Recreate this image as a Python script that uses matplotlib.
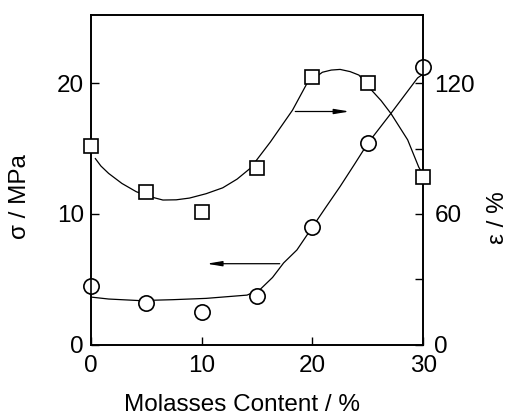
import numpy as np
import matplotlib
matplotlib.use("Agg")
import matplotlib.pyplot as plt

plt.rcParams['font.family'] = ['Liberation Sans', 'DejaVu Sans']

# measured points
molasses = [0, 5, 10, 15, 20, 25, 30]
sigma = [4.5, 3.2, 2.5, 3.7, 9.0, 15.4, 21.2]      # MPa, circles
eps = [91, 70, 61, 81, 123, 120, 77]               # %, squares

# hand-drawn trend curves
sig_curve_x = [0, 1.6, 4.4, 7.4, 10.4, 14.1, 15.3, 16.4, 17.4, 18.6, 20, 21.2, 22.5, 23.8, 25, 27.1, 29.5, 30]
sig_curve_y = [3.65, 3.5, 3.38, 3.45, 3.55, 3.8, 4.25, 5.15, 6.26, 7.25, 9.0, 10.5, 12.1, 13.8, 15.4, 17.7, 20.4, 20.7]
eps_curve_x = [0.4, 0.9, 1.6, 2.8, 4.1, 5.3, 6.5, 7.7, 8.9, 10.4, 11.9, 13.2, 14.4, 16.2, 18.2, 19.5,
               20.9, 21.7, 22.5, 23.4, 24.2, 25.3, 26.2, 27.1, 28.6, 29.6, 30]
eps_curve_y = [85.4, 82, 78.6, 74, 70.2, 68, 66.4, 66.5, 67.3, 69.3, 72, 76, 81, 93, 107.6, 119.8,
               125, 126, 126.3, 125.3, 123.7, 117, 112, 106, 94, 81.5, 78]

fig = plt.figure(figsize=(5.08, 4.2), dpi=100)
ax = fig.add_axes([0.179, 0.179, 0.654, 0.785])
ax2 = ax.twinx()

ax.plot(sig_curve_x, sig_curve_y, color='black', lw=0.9)
ax.plot(molasses, sigma, 'o', ms=11, mfc='white', mec='black', mew=1.2, clip_on=False, zorder=5)
ax2.plot(eps_curve_x, eps_curve_y, color='black', lw=0.9)
ax2.plot(molasses, eps, 's', ms=10, mfc='white', mec='black', mew=1.2, clip_on=False, zorder=5)

ax.set_xlim(0, 30)
ax.set_ylim(0, 25.2)
ax2.set_ylim(0, 25.2 * 6)

ax.set_xticks([0, 10, 20, 30])
ax.set_yticks([0, 10, 20])
ax2.set_yticks([0, 30, 60, 90, 120])
ax2.set_yticklabels(['0', '', '60', '', '120'])

ax.tick_params(axis='both', direction='in', length=6, width=1, labelsize=17.5)
ax.tick_params(axis='x', pad=7)
ax.tick_params(axis='y', pad=5)
ax2.tick_params(axis='y', direction='in', length=6, width=1, labelsize=17.5, pad=8)
for a in (ax, ax2):
    for s in a.spines.values():
        s.set_linewidth(1.2)

# direction arrows
ax.annotate('', xy=(10.2, 6.2), xytext=(17.3, 6.2),
            arrowprops=dict(arrowstyle='-|>,head_length=0.9,head_width=0.15', lw=0.9, color='black'))
ax2.annotate('', xy=(23.6, 107), xytext=(18.2, 107),
             arrowprops=dict(arrowstyle='-|>,head_length=0.9,head_width=0.15', lw=0.9, color='black'))

fig.text(0.477, 0.036, 'Molasses Content / %', fontsize=17.5, ha='center', va='center')
fig.text(0.039, 0.531, 'σ / MPa', fontsize=17.5, rotation=90, ha='center', va='center')
fig.text(0.981, 0.483, 'ε / %', fontsize=17.5, rotation=90, ha='center', va='center')

fig.savefig('out.png', dpi=100)
